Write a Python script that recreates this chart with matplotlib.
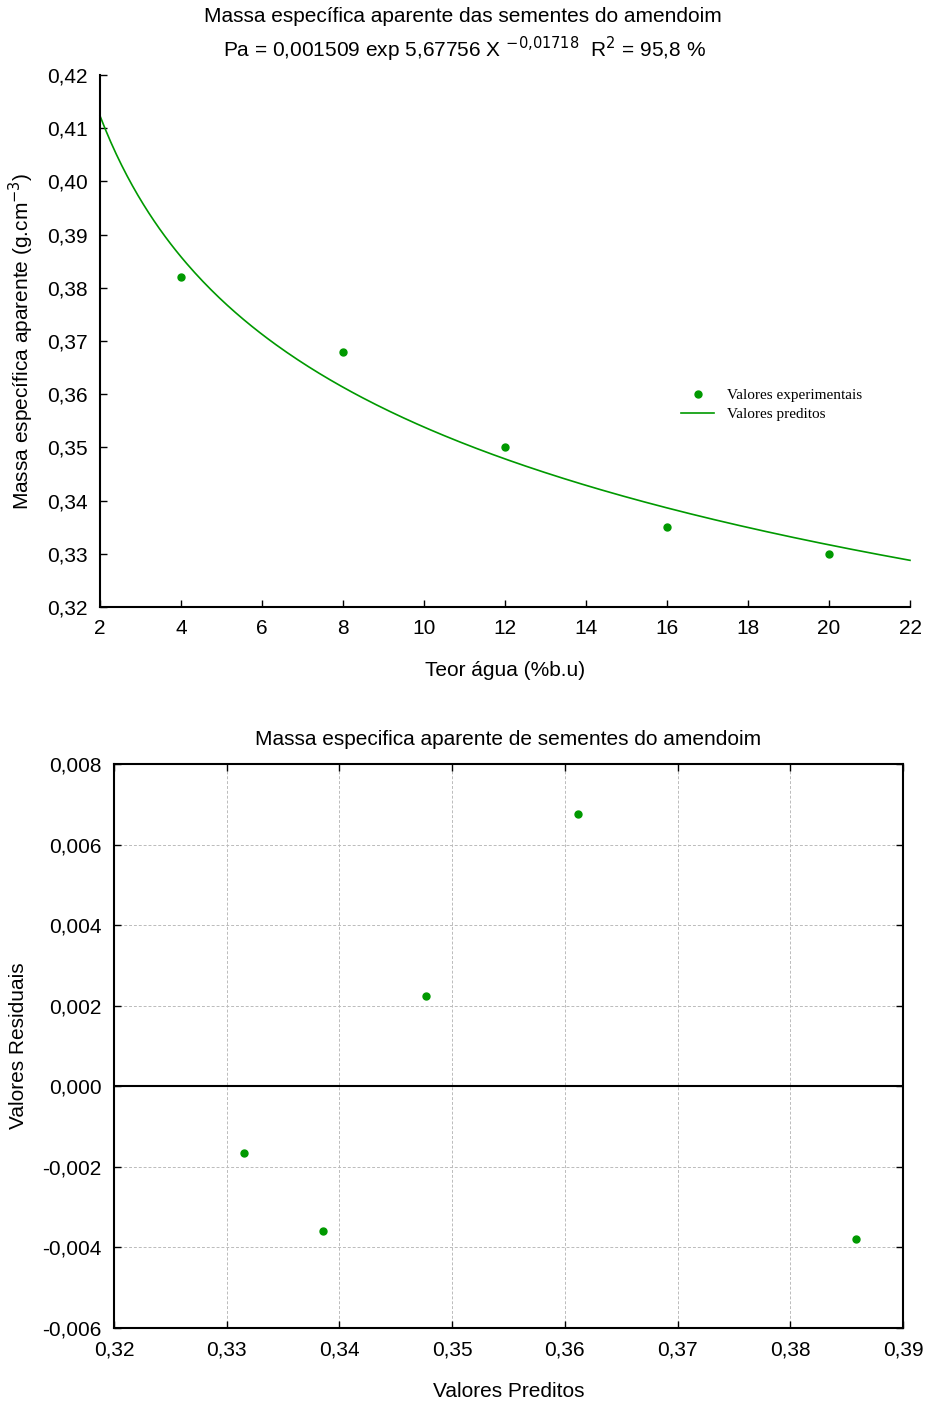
import matplotlib

matplotlib.use("Agg")
import matplotlib.pyplot as plt
import numpy as np
from matplotlib.ticker import FuncFormatter, MultipleLocator

plt.rcParams["font.family"] = ["Liberation Sans", "DejaVu Sans"]

# fitted model Pa = a * exp(b * X^c)
A_COEF = 0.001509
B_COEF = 5.67756
C_COEF = -0.01718

teor_agua = [4, 8, 12, 16, 20]
massa_exp = [0.382, 0.368, 0.350, 0.335, 0.330]

valores_preditos = [0.3315, 0.3385, 0.3477, 0.3612, 0.3858]
valores_residuais = [-0.00165, -0.0036, 0.00225, 0.00675, -0.0038]

GREEN = "#009900"
FS = 15


def comma(fmt):
    return FuncFormatter(lambda v, _: (fmt % v).replace(".", ","))


fig = plt.figure(figsize=(9.26, 14.02), dpi=100)
W, H = 926, 1402

# top panel: fitted curve and experimental points
ax1 = fig.add_axes([100 / W, 1 - 607 / H, 810 / W, 532 / H])
xs = np.linspace(2, 22, 300)
ax1.plot(xs, A_COEF * np.exp(B_COEF * xs ** C_COEF), color=GREEN, lw=1.2,
         label="Valores preditos", clip_on=False)
ax1.plot(teor_agua, massa_exp, "o", color=GREEN, ms=5, ls="none",
         label="Valores experimentais")
ax1.set_xlim(2, 22)
ax1.set_ylim(0.32, 0.42)
ax1.xaxis.set_major_locator(MultipleLocator(2))
ax1.yaxis.set_major_locator(MultipleLocator(0.01))
ax1.xaxis.set_major_formatter(comma("%g"))
ax1.yaxis.set_major_formatter(comma("%.2f"))
for side in ("top", "right"):
    ax1.spines[side].set_visible(False)
for side in ("left", "bottom"):
    ax1.spines[side].set_linewidth(1.5)
ax1.tick_params(direction="in", length=5, width=1, labelsize=FS, pad=9)
ax1.set_xlabel("Teor água (%b.u)", fontsize=FS, labelpad=16)
ax1.set_ylabel("Massa específica aparente (g.cm$^{-3}$)", fontsize=FS, labelpad=8)
handles, labels = ax1.get_legend_handles_labels()
ax1.legend(handles[::-1], labels[::-1], loc="center left", bbox_to_anchor=(0.7, 0.38),
           frameon=False, prop={"family": "Liberation Serif", "size": 11},
           handlelength=2.2, labelspacing=0.35)
fig.text(463 / W, 1 - 17 / H, "Massa específica aparente das sementes do amendoim",
         ha="center", va="center", fontsize=FS)
fig.text(464 / W, 1 - 49 / H,
         "Pa = 0,001509 exp 5,67756 X $^{-0{,}01718}$  R$^{2}$ = 95,8 %",
         ha="center", va="center", fontsize=FS)

# bottom panel: residuals vs predicted
ax2 = fig.add_axes([114 / W, 1 - 1328 / H, 789 / W, 564 / H])
ax2.plot(valores_preditos, valores_residuais, "o", color=GREEN, ms=5, zorder=3)
ax2.axhline(0, color="black", lw=1.5, zorder=2)
ax2.set_xlim(0.32, 0.39)
ax2.set_ylim(-0.006, 0.008)
ax2.xaxis.set_major_locator(MultipleLocator(0.01))
ax2.yaxis.set_major_locator(MultipleLocator(0.002))
ax2.xaxis.set_major_formatter(comma("%.2f"))
ax2.yaxis.set_major_formatter(comma("%.3f"))
ax2.grid(True, color="#bbbbbb", ls=(0, (3, 2)), lw=0.7)
for side in ax2.spines.values():
    side.set_linewidth(1.5)
ax2.tick_params(direction="in", length=5, width=1, labelsize=FS, pad=9,
                top=True, right=True)
ax2.set_xlabel("Valores Preditos", fontsize=FS, labelpad=16)
ax2.set_ylabel("Valores Residuais", fontsize=FS, labelpad=10)
ax2.set_title("Massa especifica aparente de sementes do amendoim", fontsize=FS, pad=14)

fig.savefig("out.png", dpi=100)
